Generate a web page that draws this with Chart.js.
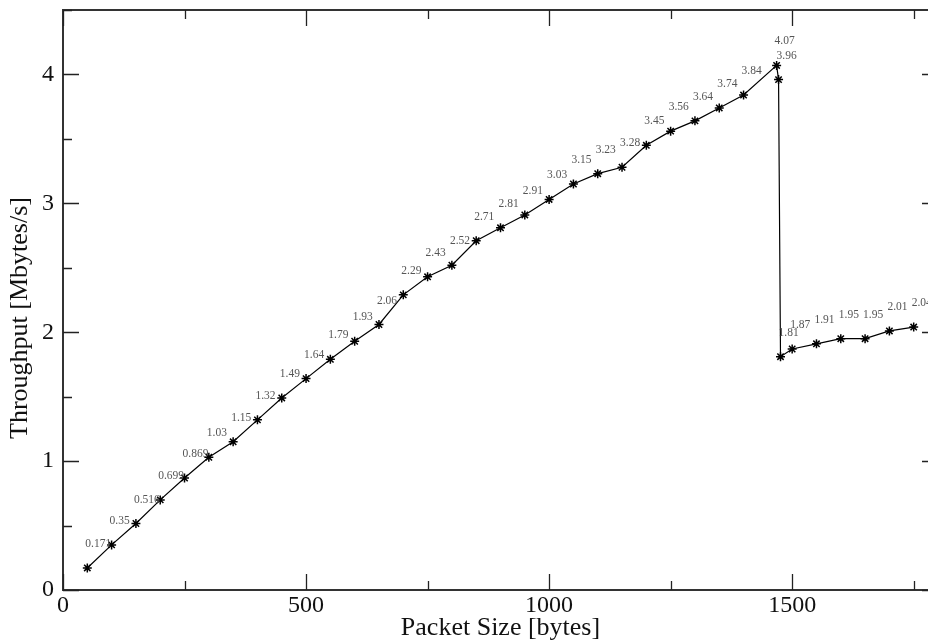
<!DOCTYPE html>
<html>
<head>
<meta charset="utf-8">
<script src="https://cdn.jsdelivr.net/npm/chart.js@4.4.1/dist/chart.umd.min.js"></script>
<style>
  html, body { margin: 0; padding: 0; background: #fff; overflow: hidden; }
  #wrap { width: 928px; height: 641px; position: relative; overflow: hidden; }
  canvas { display: block; }
</style>
</head>
<body>
<div id="wrap"><canvas id="c" width="944" height="641"></canvas></div>
<script>
// ---- data ----
const packetSizes = [50, 100, 150, 200, 250, 300, 350, 400, 450, 500, 550, 600, 650, 700, 750, 800, 850, 900, 950, 1000,
  1050, 1100, 1150, 1200, 1250, 1300, 1350, 1400, 1468, 1472, 1476, 1500, 1550, 1600, 1650, 1700, 1750];
const throughput = [0.171, 0.35, 0.516, 0.699, 0.869, 1.03, 1.15, 1.32, 1.49, 1.64, 1.79, 1.93, 2.06, 2.29, 2.43, 2.52, 2.71, 2.81, 2.91, 3.03,
  3.15, 3.23, 3.28, 3.45, 3.56, 3.64, 3.74, 3.84, 4.07, 3.96, 1.81, 1.87, 1.91, 1.95, 1.95, 2.01, 2.04];
const valueLabels = ["0.171", "0.35", "0.516", "0.699", "0.869", "1.03", "1.15", "1.32", "1.49", "1.64", "1.79", "1.93", "2.06", "2.29", "2.43", "2.52", "2.71", "2.81", "2.91", "3.03",
  "3.15", "3.23", "3.28", "3.45", "3.56", "3.64", "3.74", "3.84", "4.07", "3.96", "1.81", "1.87", "1.91", "1.95", "1.95", "2.01", "2.04"];
const xMajorTicks = [0, 500, 1000, 1500];
const xMinorTicks = [250, 750, 1250, 1750];
const yMajorTicks = [0, 1, 2, 3, 4];
const yMinorTicks = [0.5, 1.5, 2.5, 3.5, 4.5];
const xTitle = "Packet Size [bytes]";
const yTitle = "Throughput [Mbytes/s]";

const points = packetSizes.map((x, i) => ({ x: x, y: throughput[i] }));
const SERIF = "'Liberation Serif', 'DejaVu Serif', serif";

const frameTicks = {
  id: 'frameTicks',
  afterDraw(chart) {
    const ctx = chart.ctx, a = chart.chartArea;
    const xs = chart.scales.x, ys = chart.scales.y;
    ctx.save();
    ctx.strokeStyle = '#333';
    ctx.lineWidth = 2;
    ctx.strokeRect(a.left, a.top, a.right - a.left, a.bottom - a.top);
    ctx.lineWidth = 1.3;
    ctx.strokeStyle = '#222';
    const MAJ = 16, MIN = 9;
    const drawX = (v, len) => {
      const px = Math.round(xs.getPixelForValue(v)) + 0.5;
      ctx.beginPath();
      ctx.moveTo(px, a.bottom); ctx.lineTo(px, a.bottom - len);
      ctx.moveTo(px, a.top); ctx.lineTo(px, a.top + len);
      ctx.stroke();
    };
    const drawY = (v, len) => {
      const py = Math.round(ys.getPixelForValue(v)) + 0.5;
      ctx.beginPath();
      ctx.moveTo(a.left, py); ctx.lineTo(a.left + len, py);
      ctx.moveTo(a.right, py); ctx.lineTo(a.right - len, py);
      ctx.stroke();
    };
    xMajorTicks.forEach(v => drawX(v, MAJ));
    xMinorTicks.forEach(v => drawX(v, MIN));
    yMajorTicks.forEach(v => drawY(v, MAJ));
    yMinorTicks.forEach(v => drawY(v, MIN));
    // y axis title (rotated), placed as in the reference
    ctx.fillStyle = '#111';
    ctx.font = "26px " + SERIF;
    ctx.textAlign = 'center';
    ctx.textBaseline = 'middle';
    ctx.translate(20, 318);
    ctx.rotate(-Math.PI / 2);
    ctx.fillText(yTitle, 0, 0);
    ctx.restore();
  }
};

const pointLabels = {
  id: 'pointLabels',
  afterDatasetsDraw(chart) {
    const ctx = chart.ctx;
    const meta = chart.getDatasetMeta(0);
    ctx.save();
    ctx.font = "11.5px " + SERIF;
    ctx.fillStyle = '#555';
    ctx.textAlign = 'left';
    ctx.textBaseline = 'middle';
    meta.data.forEach((el, i) => {
      ctx.fillText(valueLabels[i], el.x - 2, el.y - 24);
    });
    ctx.restore();
  }
};

new Chart(document.getElementById('c'), {
  type: 'scatter',
  data: {
    datasets: [{
      data: points,
      showLine: true,
      borderColor: '#000',
      borderWidth: 1.2,
      backgroundColor: '#000',
      pointStyle: 'star',
      pointRadius: 4.5,
      pointBorderWidth: 1.5,
      pointBorderColor: '#000',
      tension: 0
    }]
  },
  options: {
    responsive: false,
    animation: false,
    devicePixelRatio: 1,
    layout: { padding: { top: 10, right: 4, left: 0, bottom: 0 } },
    plugins: { legend: { display: false }, tooltip: { enabled: false } },
    scales: {
      x: {
        type: 'linear',
        min: 0, max: 1800,
        afterBuildTicks(scale) { scale.ticks = xMajorTicks.map(v => ({ value: v })); },
        afterFit(scale) { scale.height = 51; scale.paddingLeft = 0; scale.paddingRight = 0; },
        grid: { display: false, drawTicks: false, tickLength: 0 },
        border: { display: false },
        ticks: { color: '#111', font: { family: SERIF, size: 24 }, padding: 1, maxRotation: 0,
          callback: v => String(v) },
        title: { display: true, text: xTitle, color: '#111', font: { family: SERIF, size: 26 }, padding: { top: 0, bottom: -3 } }
      },
      y: {
        type: 'linear',
        min: 0, max: 4.5,
        afterBuildTicks(scale) { scale.ticks = yMajorTicks.map(v => ({ value: v })); },
        afterFit(scale) { scale.width = 63; scale.paddingTop = 0; scale.paddingBottom = 0; },
        grid: { display: false, drawTicks: false, tickLength: 0 },
        border: { display: false },
        ticks: { color: '#111', font: { family: SERIF, size: 24 }, padding: 9,
          callback: v => String(v) },
        title: { display: false }
      }
    }
  },
  plugins: [frameTicks, pointLabels]
});
</script>
</body>
</html>
